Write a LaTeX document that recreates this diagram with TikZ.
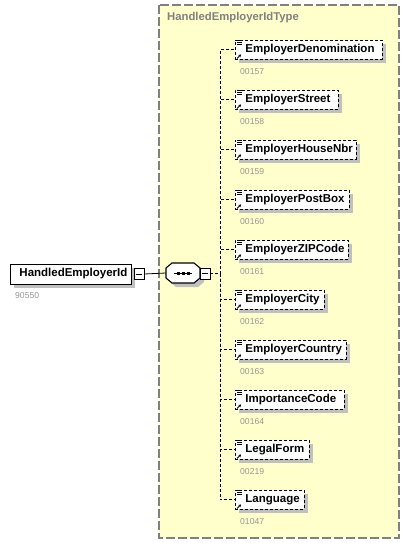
\documentclass[tikz,border=0pt]{standalone}
\usepackage{fontspec}
\setmainfont{Liberation Sans}
\usetikzlibrary{shadows,arrows.meta,calc}
\definecolor{ybg}{RGB}{255,255,204}
\definecolor{yborder}{RGB}{128,128,128}
\definecolor{numgray}{RGB}{150,150,150}
\definecolor{titlegray}{RGB}{128,128,128}
\definecolor{shd}{RGB}{192,192,192}
\newcommand\myicon[1]{%
  \draw[line width=0.8pt] ($(#1.north west)+(2,1)$) -- ++(5,0);
  \draw[line width=0.8pt] ($(#1.north west)+(2,3)$) -- ++(5,0);
  \draw[line width=0.8pt] ($(#1.north west)+(2,5)$) -- ++(5,0);
  \draw[line width=0.9pt,-{Stealth[length=2.5pt,width=3pt]}] ($(#1.south west)+(2,-1)$) -- ++(4,-4);
}
\begin{document}
\begin{tikzpicture}[x=1pt,y=-1pt,
  elem/.style={draw, dash pattern=on 3pt off 2pt, fill=white, line width=0.9pt,
    minimum height=19pt, inner xsep=10pt, inner ysep=0pt, anchor=west, align=left,
    font=\fontsize{11.5}{13}\selectfont\bfseries,
    drop shadow={shadow xshift=4pt, shadow yshift=-4pt, fill=shd, opacity=1}},
  mainbox/.style={draw, fill=white, line width=0.9pt, minimum height=20pt,
    inner xsep=9pt, inner ysep=0pt, anchor=west, align=left,
    font=\fontsize{11.5}{13}\selectfont\bfseries,
    drop shadow={shadow xshift=4pt, shadow yshift=-4pt, fill=shd, opacity=1}},
  num/.style={anchor=west, text=numgray, font=\fontsize{8.6}{10}\selectfont, inner sep=0pt},
  minusbox/.style={draw, fill=white, line width=0.7pt, minimum width=10pt, minimum height=11pt, inner sep=0pt},
  conn/.style={line width=0.8pt},
  dconn/.style={line width=0.8pt, dash pattern=on 3pt off 2pt}
]
\useasboundingbox (0,0) rectangle (418,544);
% type box
\draw[fill=ybg, draw=yborder, line width=1.3pt, dash pattern=on 9pt off 3pt] (159,5) rectangle (399,538);
\node[anchor=west, inner sep=0pt, text=titlegray, font=\fontsize{11.3}{13}\selectfont\bfseries] (title) at (167,18) {HandledEmployerIdType};

% main element
\node[mainbox, text width=103pt] (he) at (10,274) {HandledEmployerId};
\node[num] (henum) at (15,296) {90550};
\node[minusbox] (hm) at (139,274) {};
\draw[line width=0.8pt] ($(hm.west)+(2,0)$) -- ($(hm.east)+(-2,0)$);

% sequence
\node[minimum width=34pt, minimum height=20pt, inner sep=0pt] (seq) at (183,273) {};
\fill[shd] (176,267) -- (198,267) -- (204,272) -- (204,282) -- (198,287) -- (176,287) -- (170,282) -- (170,272) -- cycle;
\draw[fill=white, line width=1.1pt] (172,263) -- (194,263) -- (200,268) -- (200,278) -- (194,283) -- (172,283) -- (166,278) -- (166,268) -- cycle;
\draw[line width=0.9pt] (174,273) -- (192,273);
\fill (176.5,271.5) rectangle ++(3,3);
\fill (181.5,271.5) rectangle ++(3,3);
\fill (186.5,271.5) rectangle ++(3,3);
\node[minusbox] (sm) at (205,273.5) {};
\draw[line width=0.8pt] ($(sm.west)+(2,0)$) -- ($(sm.east)+(-2,0)$);
\draw[conn] (hm.east) -- (seq.west);

% children
\coordinate (spine) at (220,273.5);
\draw[dconn] (sm.east) -- (spine);

\node[elem, text width=127pt] (e1) at (235,49.5) {EmployerDenomination};
\node[elem, text width=83pt]  (e2) at (235,99.5) {EmployerStreet};
\node[elem, text width=101pt] (e3) at (235,149.5) {EmployerHouseNbr};
\node[elem, text width=94pt]  (e4) at (235,199.5) {EmployerPostBox};
\node[elem, text width=93pt]  (e5) at (235,249.5) {EmployerZIPCode};
\node[elem, text width=69pt]  (e6) at (235,299.5) {EmployerCity};
\node[elem, text width=91pt]  (e7) at (235,349.5) {EmployerCountry};
\node[elem, text width=89pt]  (e8) at (235,399.5) {ImportanceCode};
\node[elem, text width=54pt]  (e9) at (235,449.5) {LegalForm};
\node[elem, text width=49pt]  (e10) at (235,499.5) {Language};

\node[num] at (240,72) {00157};
\node[num] at (240,122) {00158};
\node[num] at (240,172) {00159};
\node[num] at (240,222) {00160};
\node[num] at (240,272) {00161};
\node[num] at (240,322) {00162};
\node[num] at (240,372) {00163};
\node[num] at (240,422) {00164};
\node[num] at (240,472) {00219};
\node[num] at (240,522) {01047};

\foreach \e in {e1,e2,e3,e4,e5,e6,e7,e8,e9,e10}{
  \draw[dconn] (spine) |- (\e.west);
  \myicon{\e}
}
\end{tikzpicture}
\end{document}
